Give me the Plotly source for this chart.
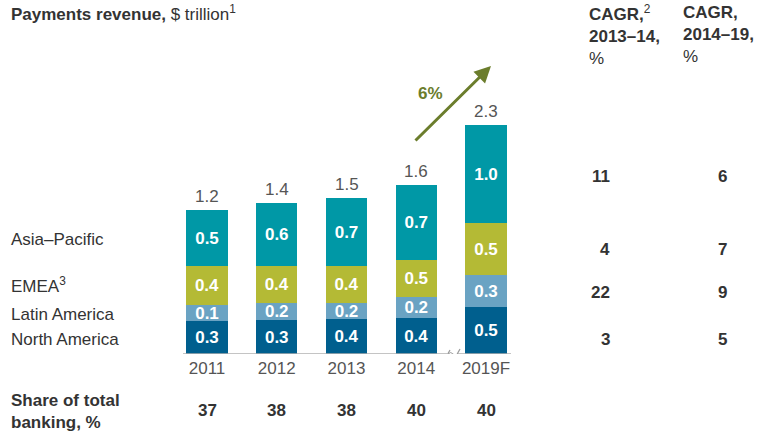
import plotly.graph_objects as go

# ---- data ----
years = ["2011", "2012", "2013", "2014", "2019F"]
regions = ["North America", "Latin America", "EMEA", "Asia–Pacific"]
# segment heights as drawn in the picture ($ trillion, estimated)
na_h = [0.33, 0.34, 0.35, 0.36, 0.47]
la_h = [0.16, 0.17, 0.16, 0.21, 0.32]
emea_h = [0.39, 0.37, 0.37, 0.37, 0.52]
ap_h = [0.56, 0.63, 0.68, 0.75, 0.98]
# printed segment labels
na_lbl = ["0.3", "0.3", "0.4", "0.4", "0.5"]
la_lbl = ["0.1", "0.2", "0.2", "0.2", "0.3"]
emea_lbl = ["0.4", "0.4", "0.4", "0.5", "0.5"]
ap_lbl = ["0.5", "0.6", "0.7", "0.7", "1.0"]
total_lbl = ["1.2", "1.4", "1.5", "1.6", "2.3"]
share_total_banking = [37, 38, 38, 40, 40]
cagr_rows = ["Total", "Asia–Pacific", "EMEA", "North America"]
cagr_2013_14 = [11, 4, 22, 3]
cagr_2014_19 = [6, 7, 9, 5]
arrow_label = "6%"

W, H = 762, 433
FONT = "Liberation Sans, Arial, Helvetica, sans-serif"
FS = 17
DARK = "#333333"
GRAY = "#555555"
colors = {"North America": "#005f8e", "Latin America": "#6aa3c3",
          "EMEA": "#b4ba35", "Asia–Pacific": "#0098a6"}

# pixel helpers (for layout only)
X0PX, DX = 207.0, 69.75   # pixel of category 0 and spacing
Y0PX, DY = 354.0, 100.0   # pixel of y=0 and px per unit
def px2x(p): return (p - X0PX) / DX
def px2y(p): return (Y0PX - p) / DY
def pap_x(p): return p / W
def pap_y(p): return 1 - p / H

xs = list(range(len(years)))
fig = go.Figure()
for name, h, lbl in [("North America", na_h, na_lbl), ("Latin America", la_h, la_lbl),
                     ("EMEA", emea_h, emea_lbl), ("Asia–Pacific", ap_h, ap_lbl)]:
    fig.add_trace(go.Bar(
        x=xs, y=h, name=name, text=lbl, textposition="inside",
        insidetextanchor="middle", textangle=0, constraintext="none",
        textfont=dict(family=FONT, size=FS, color="white", weight="bold"),
        marker=dict(color=colors[name], line=dict(width=0)),
        width=0.59, hoverinfo="skip", cliponaxis=False))

totals = [a + b + c + d for a, b, c, d in zip(na_h, la_h, emea_h, ap_h)]
ann = []
for i, (t, l) in enumerate(zip(totals, total_lbl)):
    ann.append(dict(x=i, y=t, xref="x", yref="y", text=l, showarrow=False,
                    xanchor="center", yanchor="bottom", yshift=2,
                    font=dict(family=FONT, size=FS, color=GRAY)))
for i, s in enumerate(share_total_banking):
    ann.append(dict(x=i, y=pap_y(410), xref="x", yref="paper", text=f"<b>{s}</b>",
                    xanchor="center", yanchor="middle", showarrow=False,
                    font=dict(family=FONT, size=FS, color=DARK)))

# left labels
for txt, py in [("Asia–Pacific", 240), ("EMEA<sup>3</sup>", 285),
                ("Latin America", 314), ("North America", 339)]:
    ann.append(dict(x=pap_x(9), y=pap_y(py), xref="paper", yref="paper", text=txt,
                    xanchor="left", yanchor="middle", showarrow=False,
                    font=dict(family=FONT, size=FS, color=DARK)))

# title
ann.append(dict(x=pap_x(9), y=pap_y(13), xref="paper", yref="paper",
                text="<b>Payments revenue,</b> $ trillion<sup>1</sup>", xanchor="left",
                yanchor="middle", showarrow=False, font=dict(family=FONT, size=FS, color=DARK)))
# bottom label
ann.append(dict(x=pap_x(9), y=pap_y(411), xref="paper", yref="paper",
                text="<b>Share of total<br>banking, %</b>", xanchor="left", align="left",
                yanchor="middle", showarrow=False, font=dict(family=FONT, size=FS, color=DARK)))
# CAGR headers
ann.append(dict(x=pap_x(587), y=pap_y(35), xref="paper", yref="paper",
                text="<b>CAGR,</b><sup>2</sup><br><b>2013–14,</b><br>%", xanchor="left",
                yanchor="middle", align="left", showarrow=False,
                font=dict(family=FONT, size=FS, color=DARK)))
ann.append(dict(x=pap_x(681), y=pap_y(35), xref="paper", yref="paper",
                text="<b>CAGR,</b><br><b>2014–19,</b><br>%", xanchor="left",
                yanchor="middle", align="left", showarrow=False,
                font=dict(family=FONT, size=FS, color=DARK)))
for v1, v2, py in zip(cagr_2013_14, cagr_2014_19, [176, 250, 292, 339]):
    ann.append(dict(x=pap_x(612), y=pap_y(py), xref="paper", yref="paper",
                    text=f"<b>{v1}</b>", xanchor="right", yanchor="middle", showarrow=False,
                    font=dict(family=FONT, size=FS, color=DARK)))
    ann.append(dict(x=pap_x(729), y=pap_y(py), xref="paper", yref="paper",
                    text=f"<b>{v2}</b>", xanchor="right", yanchor="middle", showarrow=False,
                    font=dict(family=FONT, size=FS, color=DARK)))

# growth arrow
OLIVE = "#6b7d2c"
ann.append(dict(x=px2x(491), y=px2y(66), xref="x", yref="y",
                ax=px2x(414), ay=px2y(142), axref="x", ayref="y",
                text="", showarrow=True, arrowhead=2, arrowsize=1.1, arrowwidth=3,
                arrowcolor=OLIVE))
ann.append(dict(x=px2x(430), y=px2y(93), xref="x", yref="y", text=f"<b>{arrow_label}</b>",
                xanchor="center", yanchor="middle",
                showarrow=False, font=dict(family=FONT, size=FS, color=OLIVE)))

# baseline with break
LINE = "#b0b0b0"
BRK = "#9a9a9a"
shapes = [
    dict(type="line", xref="x", yref="y", x0=px2x(183), x1=px2x(447), y0=0, y1=0,
         line=dict(color=LINE, width=1.3)),
    dict(type="line", xref="x", yref="y", x0=px2x(458), x1=px2x(511), y0=0, y1=0,
         line=dict(color=LINE, width=1.3)),
    dict(type="line", xref="x", yref="y", x0=px2x(445), x1=px2x(450), y0=px2y(359), y1=px2y(350),
         line=dict(color=BRK, width=1.2)),
    dict(type="line", xref="x", yref="y", x0=px2x(455), x1=px2x(460), y0=px2y(358), y1=px2y(349),
         line=dict(color=BRK, width=1.2)),
    dict(type="path", xref="x", yref="y",
         path=f"M {px2x(448)},{px2y(354)} Q {px2x(451)},{px2y(351)} {px2x(453)},{px2y(354)} T {px2x(458)},{px2y(354)}",
         line=dict(color=BRK, width=1.0)),
]

x_lo, x_hi = px2x(183), px2x(511)
fig.update_layout(
    width=W, height=H, margin=dict(l=0, r=0, t=0, b=0),
    paper_bgcolor="white", plot_bgcolor="white", barmode="stack", showlegend=False,
    uniformtext=dict(minsize=FS, mode="show"),
    annotations=ann, shapes=shapes,
    xaxis=dict(domain=[183 / W, 511 / W], range=[x_lo, x_hi], tickvals=xs, ticktext=years,
               showgrid=False, zeroline=False, showline=False, ticks="",
               ticklabelstandoff=2,
               tickfont=dict(family=FONT, size=FS, color=GRAY)),
    yaxis=dict(domain=[(H - Y0PX) / H, 1], range=[0, Y0PX / DY], visible=False,
               showgrid=False, zeroline=False),
    font=dict(family=FONT),
)
fig.write_html("out.html")
